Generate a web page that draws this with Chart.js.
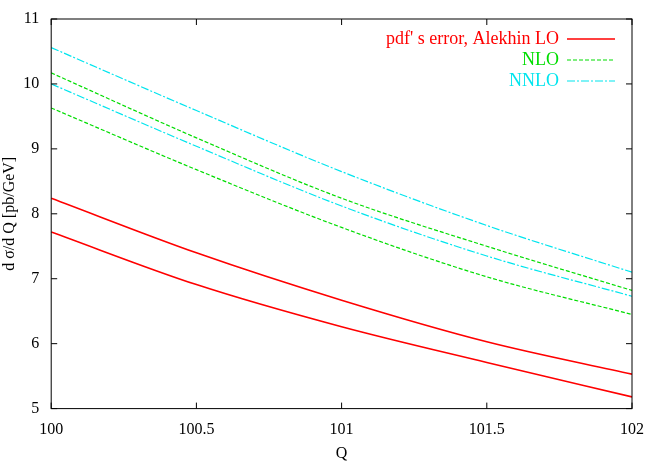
<!DOCTYPE html>
<html>
<head>
<meta charset="utf-8">
<script src="https://cdn.jsdelivr.net/npm/chart.js@4/dist/chart.umd.min.js"></script>
<style>
  html, body { margin: 0; padding: 0; background: #fff; }
  #wrap { width: 662px; height: 463px; }
</style>
</head>
<body>
<div id="wrap"><canvas id="chart"></canvas></div>
<script>
const qValues = [100, 100.5, 101, 101.5, 102];
const loUpper = [8.24, 7.40, 6.67, 6.03, 5.53];
const loLower = [7.72, 6.91, 6.26, 5.71, 5.18];
const nloUpper = [10.17, 9.17, 8.24, 7.50, 6.82];
const nloLower = [9.63, 8.68, 7.79, 7.03, 6.45];
const nnloUpper = [10.56, 9.59, 8.65, 7.82, 7.10];
const nnloLower = [10.0, 9.04, 8.12, 7.35, 6.73];
const xTicks = [100, 100.5, 101, 101.5, 102];
const yTicks = [5, 6, 7, 8, 9, 10, 11];
const legendItems = [
  { label: "pdf' s error, Alekhin LO", color: '#ff0000', dash: [] },
  { label: 'NLO', color: '#00dd00', dash: [4, 2] },
  { label: 'NNLO', color: '#00e5ee', dash: [8, 2, 2, 2] }
];

const FONT = '"Liberation Serif", "Times New Roman", serif';

function series(vals, color, dash, width) {
  return {
    data: vals.map((v, i) => ({ x: qValues[i], y: v })),
    borderColor: color,
    borderDash: dash,
    borderWidth: width,
    pointRadius: 0,
    tension: 0.4,
    cubicInterpolationMode: 'monotone'
  };
}

// frame, inward ticks and gnuplot-style legend
const framePlugin = {
  id: 'frame',
  afterDraw(chart) {
    const { ctx, chartArea: a, scales: { x, y } } = chart;
    ctx.save();
    ctx.strokeStyle = '#000';
    ctx.lineWidth = 1;
    ctx.strokeRect(a.left, a.top, a.right - a.left, a.bottom - a.top);
    ctx.beginPath();
    xTicks.forEach(t => {
      const px = x.getPixelForValue(t);
      ctx.moveTo(px, a.bottom); ctx.lineTo(px, a.bottom - 6);
      ctx.moveTo(px, a.top); ctx.lineTo(px, a.top + 6);
    });
    yTicks.forEach(t => {
      const py = y.getPixelForValue(t);
      ctx.moveTo(a.left, py); ctx.lineTo(a.left + 6, py);
      ctx.moveTo(a.right, py); ctx.lineTo(a.right - 6, py);
    });
    ctx.stroke();

    ctx.font = '18px ' + FONT;
    ctx.textAlign = 'right';
    ctx.textBaseline = 'middle';
    legendItems.forEach((item, i) => {
      const ly = a.top + 20 + i * 21;
      ctx.fillStyle = item.color;
      ctx.fillText(item.label, a.right - 73, ly);
      ctx.strokeStyle = item.color;
      ctx.lineWidth = item.dash.length ? 1.2 : 1.6;
      ctx.setLineDash(item.dash);
      ctx.beginPath();
      ctx.moveTo(a.right - 65, ly); ctx.lineTo(a.right - 17, ly);
      ctx.stroke();
    });
    ctx.restore();
  }
};

new Chart(document.getElementById('chart'), {
  type: 'line',
  data: {
    datasets: [
      series(loUpper, '#ff0000', [], 1.6),
      series(loLower, '#ff0000', [], 1.6),
      series(nloUpper, '#00dd00', [4, 2], 1.2),
      series(nloLower, '#00dd00', [4, 2], 1.2),
      series(nnloUpper, '#00e5ee', [8, 2, 2, 2], 1.2),
      series(nnloLower, '#00e5ee', [8, 2, 2, 2], 1.2)
    ]
  },
  options: {
    responsive: true,
    maintainAspectRatio: false,
    animation: false,
    layout: { padding: { top: 19, right: 30, bottom: 0, left: 0 } },
    plugins: { legend: { display: false }, tooltip: { enabled: false } },
    scales: {
      x: {
        type: 'linear', min: 100, max: 102,
        afterBuildTicks: s => { s.ticks = xTicks.map(v => ({ value: v })); },
        grid: { display: false },
        border: { display: false },
        ticks: { color: '#000', font: { family: FONT, size: 16 }, padding: 4, maxRotation: 0,
                 callback: v => String(v) },
        title: { display: true, text: 'Q', color: '#000', font: { family: FONT, size: 16 }, padding: 0 }
      },
      y: {
        min: 5, max: 11,
        afterBuildTicks: s => { s.ticks = yTicks.map(v => ({ value: v })); },
        grid: { display: false },
        border: { display: false },
        ticks: { color: '#000', font: { family: FONT, size: 16 }, padding: 4 },
        title: { display: true, text: 'd σ/d Q [pb/GeV]', color: '#000', font: { family: FONT, size: 16 }, padding: 0 }
      }
    }
  },
  plugins: [framePlugin]
});
</script>
</body>
</html>
